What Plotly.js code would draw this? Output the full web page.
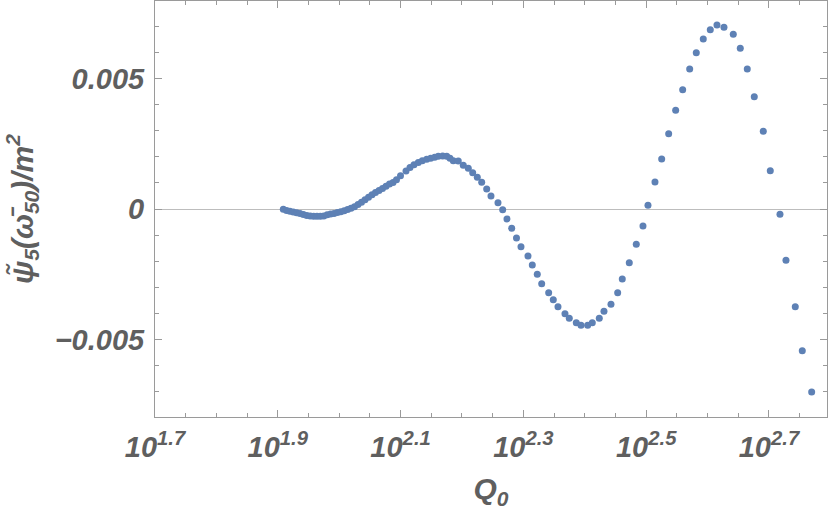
<!DOCTYPE html>
<html>
<head>
<meta charset="utf-8">
<script src="https://cdn.plot.ly/plotly-3.0.1.min.js"></script>
<style>html,body{margin:0;padding:0;background:#fff;}#chart{width:830px;height:510px;}</style>
</head>
<body>
<div id="chart"></div>
<script>
// Q0 values (x, log axis)
const q0 = [
  81.09, 82.10, 83.12, 84.16, 85.24, 86.33, 87.44, 88.56, 89.70, 90.85,
  92.01, 93.19, 94.39, 95.60, 96.83, 98.07, 99.33, 100.60, 101.89, 103.20,
  104.53, 105.91, 107.31, 108.72, 110.16, 111.62, 113.09, 114.58, 116.10, 117.63,
  119.19, 120.76, 122.36, 123.97, 125.85, 128.47, 130.41, 132.38, 134.53, 136.56,
  138.84, 140.93, 143.06, 145.01, 147.42, 149.65, 151.51, 153.40, 156.30, 159.26,
  162.28, 164.98, 167.85, 170.64, 173.87, 176.70, 181.40, 184.62, 187.62, 190.96,
  194.43, 197.74, 203.00, 206.30, 210.20, 213.70, 219.38, 223.20, 227.17, 233.21,
  237.00, 243.31, 247.63, 253.93, 258.35, 265.22, 269.94, 277.12, 284.17, 289.11,
  296.80, 304.70, 312.45, 318.37, 326.83, 335.15, 344.06, 353.21, 362.61, 372.26,
  381.58, 391.73, 402.15, 412.38, 423.35, 438.38, 450.04, 462.01, 474.30, 490.58,
  503.63, 522.29, 534.17, 553.13, 567.85, 588.22
];
// psi5(omega50)/m^2 values (y)
const psi5 = [
  -0.0000115, -0.0000575, -0.0000881, -0.000115, -0.000146, -0.000176, -0.000215, -0.000253, -0.000272, -0.000280,
  -0.000280, -0.000276, -0.000264, -0.000222, -0.000192, -0.000172, -0.000138, -0.000103, -0.0000651, -0.0000192,
  0.0000268, 0.0000881, 0.000172, 0.000261, 0.000352, 0.000452, 0.000544, 0.000628, 0.000705, 0.000785,
  0.000870, 0.000954, 0.001015, 0.001119, 0.001272, 0.001456, 0.001590, 0.001693, 0.001782, 0.001847,
  0.001904, 0.001943, 0.001981, 0.002023, 0.002031, 0.002019, 0.001943, 0.001851, 0.001839, 0.001674,
  0.001559, 0.001391, 0.001215, 0.001023, 0.000766, 0.000498, 0.000241, -0.0000268, -0.000383, -0.000739,
  -0.001111, -0.001444, -0.001801, -0.002146, -0.002502, -0.002862, -0.003207, -0.003475, -0.003743, -0.004011,
  -0.004188, -0.004356, -0.004456, -0.004456, -0.004356, -0.004188, -0.003920, -0.003651, -0.003207, -0.002682,
  -0.002057, -0.001352, -0.000651, 0.000142, 0.001034, 0.001916, 0.002885, 0.003782, 0.004571, 0.005364,
  0.005988, 0.006513, 0.006870, 0.007050, 0.006962, 0.006693, 0.006157, 0.005364, 0.004303, 0.002977,
  0.001467, -0.000203, -0.001966, -0.003743, -0.005429, -0.007011
];
// tick labels
const xTickExponents = ["1.7", "1.9", "2.1", "2.3", "2.5", "2.7"];
const yTickValues = [-0.005, 0, 0.005];
const yTickLabels = ["\u22120.005", "0", "0.005"];

const xTickVals = xTickExponents.map(e => Math.pow(10, parseFloat(e)));
const xTickText = xTickExponents.map(e => "10<sup>" + e + "</sup>");
const xMinorVals = [];
for (let k = 0; k <= 22; k++) xMinorVals.push(Math.pow(10, 1.7 + 0.05 * k));

const fam = "Liberation Sans, Arial, Helvetica, sans-serif";
const txtColor = "#5f5f5f";
const frameColor = "#9a9a9a";
const labelFont = {family: fam, size: 29, color: txtColor, weight: "bold", style: "italic"};

const trace = {
  x: q0, y: psi5, type: "scatter", mode: "markers",
  marker: {size: 7, color: "#5e81b5"},
  hoverinfo: "skip"
};

const layout = {
  width: 830, height: 510,
  margin: {l: 155, r: 3, t: 1, b: 93},
  paper_bgcolor: "#ffffff", plot_bgcolor: "#ffffff",
  showlegend: false,
  font: {family: fam},
  xaxis: {
    type: "log", range: [1.7, 2.7945], autorange: false,
    tickmode: "array", tickvals: xTickVals, ticktext: xTickText,
    ticks: "inside", ticklen: 7, tickwidth: 1, tickcolor: frameColor,
    showline: true, linecolor: frameColor, linewidth: 1, mirror: "ticks",
    showgrid: false, zeroline: false,
    tickfont: labelFont, ticklabelstandoff: 4,
    minor: {tickmode: "array", tickvals: xMinorVals, ticks: "inside", ticklen: 4, tickcolor: frameColor, showgrid: false},
    title: {text: "Q<sub>0</sub>", font: {family: fam, size: 30, color: txtColor, weight: "bold", style: "italic"}, standoff: 16}
  },
  yaxis: {
    range: [-0.00797, 0.00797], autorange: false,
    tickmode: "array", tickvals: yTickValues, ticktext: yTickLabels,
    ticks: "inside", ticklen: 7, tickwidth: 1, tickcolor: frameColor,
    showline: true, linecolor: frameColor, linewidth: 1, mirror: "ticks",
    showgrid: false,
    zeroline: true, zerolinecolor: "#bdbdbd", zerolinewidth: 1,
    tickfont: labelFont, ticklabelstandoff: 4,
    minor: {dtick: 0.001, tick0: 0, ticks: "inside", ticklen: 4, tickcolor: frameColor, showgrid: false},
    title: {text: "\u03C8\u0303<sub>5</sub>(\u03C9\u0304<sub>50</sub>)/m<sup>2</sup>\u00A0\u00A0\u00A0", font: {family: fam, size: 30, color: txtColor, weight: "bold", style: "italic"}, standoff: 12}
  }
};

Plotly.newPlot("chart", [trace], layout, {displayModeBar: false, staticPlot: true});
</script>
</body>
</html>
